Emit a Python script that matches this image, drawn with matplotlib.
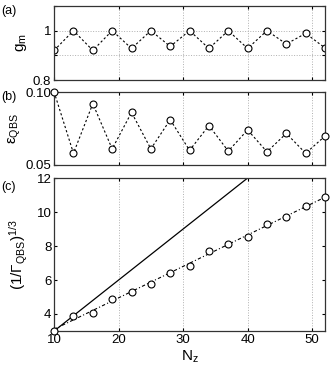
import numpy as np
import matplotlib
matplotlib.use("Agg")
import matplotlib.pyplot as plt

plt.rcParams['font.family'] = ['Liberation Sans', 'DejaVu Sans']
plt.rcParams['font.size'] = 9
plt.rcParams['axes.linewidth'] = 0.9
plt.rcParams['xtick.direction'] = 'in'
plt.rcParams['ytick.direction'] = 'in'
plt.rcParams['xtick.major.size'] = 2
plt.rcParams['ytick.major.size'] = 2
plt.rcParams['mathtext.fontset'] = 'custom'
plt.rcParams['mathtext.rm'] = 'Liberation Sans'
plt.rcParams['mathtext.it'] = 'Liberation Sans'

nz = [10, 13, 16, 19, 22, 25, 28, 31, 34, 37, 40, 43, 46, 49, 52]
g_m = [0.92, 1.0, 0.92, 1.0, 0.928, 1.0, 0.936, 1.0, 0.928, 1.0, 0.928, 1.0, 0.946, 0.989, 0.93]
eps_qbs = [0.100, 0.058, 0.092, 0.061, 0.086, 0.061, 0.081, 0.060, 0.077, 0.0595,
           0.074, 0.059, 0.0716, 0.058, 0.0698]
inv_gamma = [3.0, 3.9, 4.08, 4.87, 5.31, 5.76, 6.42, 6.85, 7.72, 8.1, 8.55, 9.29, 9.7, 10.38, 10.87]
ref_x = [10, 52]
ref_y = [3.0, 15.6]

fig = plt.figure(figsize=(3.32, 3.74), dpi=100)
L, W = 0.163, 0.816
ax_a = fig.add_axes([L, 0.786, W, 0.198])
ax_b = fig.add_axes([L, 0.559, W, 0.195])
ax_c = fig.add_axes([L, 0.115, W, 0.409])

mk = dict(marker='o', mfc='white', mec='black', ms=5, mew=0.8, color='black', lw=0.8)
grid_kw = dict(color='#b0b0b0', linestyle=':', linewidth=0.7)
lab_fs = 11

ax_a.plot(nz, g_m, linestyle=(0, (2, 2)), **mk)
ax_a.set_ylim(0.8, 1.1)
ax_a.set_yticks([0.8, 0.9, 1.0, 1.1])
ax_a.set_yticklabels(['0.8', '', '1', ''])
ax_a.set_ylabel(r'g$_\mathrm{m}$', fontsize=lab_fs, labelpad=3)
ax_a.grid(True, **grid_kw)

ax_b.plot(nz, eps_qbs, linestyle=(0, (2, 2)), clip_on=False, zorder=5, **mk)
ax_b.set_ylim(0.05, 0.10)
ax_b.set_yticks([0.05, 0.10])
ax_b.set_yticklabels(['0.05', '0.10'])
ax_b.set_ylabel(r'$\varepsilon_\mathrm{QBS}$', fontsize=lab_fs, labelpad=2)
ax_b.grid(True, axis='x', **grid_kw)

fit = np.polyfit(nz, inv_gamma, 1)
fx = np.array([nz[0], nz[-1]])
ax_c.plot(ref_x, ref_y, color='black', lw=0.9)
ax_c.plot(fx, np.polyval(fit, fx), color='black', lw=0.8, linestyle=(0, (3, 2, 1, 2)))
ax_c.plot(nz, inv_gamma, linestyle='none', clip_on=False, zorder=5, **mk)
ax_c.set_ylim(3, 12)
ax_c.set_yticks([4, 6, 8, 10, 12])
ax_c.set_ylabel(r'(1/$\Gamma_\mathrm{QBS}$)$^\mathrm{1/3}$', fontsize=lab_fs, labelpad=5)
ax_c.set_xlabel(r'N$_\mathrm{z}$', fontsize=lab_fs, labelpad=2)
ax_c.grid(True, axis='x', **grid_kw)

for ax in (ax_a, ax_b, ax_c):
    ax.set_xlim(10, 52)
    ax.set_xticks([10, 20, 30, 40, 50])
    ax.tick_params(top=True, right=True, labelsize=9.5, pad=2)
    for s in ax.spines.values():
        s.set_color('#333333')
for ax in (ax_a, ax_b):
    ax.set_xticklabels([])

fig.text(0.003, 0.963, '(a)', fontsize=9)
fig.text(0.003, 0.733, '(b)', fontsize=9)
fig.text(0.003, 0.493, '(c)', fontsize=9)

fig.savefig('out.png', dpi=100)
